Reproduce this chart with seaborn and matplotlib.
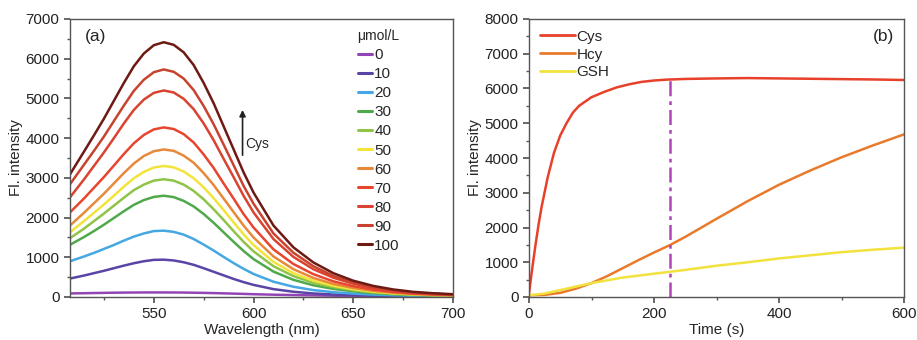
import numpy as np
import pandas as pd
import matplotlib
matplotlib.use("Agg")
import matplotlib.pyplot as plt
from matplotlib.ticker import MultipleLocator
import seaborn as sns

# ---------------- data: panel (a) ----------------
wavelength = [508, 515, 520, 525, 530, 535, 540, 545, 550, 555, 560, 565, 570, 575, 580,
              585, 590, 595, 600, 610, 620, 630, 640, 650, 660, 670, 680, 690, 700]
concentrations = ["0", "10", "20", "30", "40", "50", "60", "70", "80", "90", "100"]
fl_0 = [90, 95, 100, 104, 108, 111, 113, 115, 115, 115, 114, 112, 108, 104, 98,
        92, 85, 78, 70, 58, 48, 40, 33, 27, 22, 18, 15, 12, 10]
fl_10 = [465, 540, 600, 660, 725, 790, 850, 900, 935, 940, 920, 875, 810, 725, 635,
         545, 455, 375, 305, 198, 132, 89, 63, 46, 34, 26, 20, 16, 13]
fl_20 = [900, 1020, 1110, 1210, 1310, 1420, 1520, 1600, 1660, 1670, 1640, 1570, 1460, 1320, 1170,
         1010, 855, 710, 580, 385, 258, 174, 121, 86, 61, 44, 32, 25, 20]
fl_30 = [1315, 1510, 1660, 1820, 1990, 2160, 2320, 2440, 2520, 2550, 2515, 2420, 2280, 2090, 1870,
         1630, 1390, 1160, 955, 640, 432, 295, 204, 143, 99, 69, 50, 37, 28]
fl_40 = [1480, 1720, 1910, 2100, 2300, 2500, 2690, 2830, 2930, 2965, 2930, 2830, 2670, 2460, 2210,
         1940, 1660, 1390, 1150, 775, 525, 358, 248, 172, 118, 82, 58, 43, 32]
fl_50 = [1630, 1910, 2120, 2330, 2550, 2780, 2990, 3150, 3260, 3300, 3265, 3160, 2990, 2760, 2490,
         2190, 1880, 1580, 1310, 885, 600, 410, 282, 195, 133, 92, 66, 48, 36]
fl_60 = [1800, 2120, 2360, 2600, 2860, 3120, 3360, 3550, 3670, 3715, 3680, 3560, 3380, 3120, 2820,
         2480, 2140, 1800, 1500, 1020, 700, 480, 330, 228, 155, 107, 75, 55, 42]
fl_70 = [2130, 2480, 2750, 3020, 3310, 3600, 3870, 4080, 4220, 4270, 4230, 4100, 3890, 3590, 3250,
         2860, 2480, 2090, 1750, 1200, 830, 575, 395, 272, 185, 128, 88, 65, 50]
fl_80 = [2510, 2960, 3300, 3640, 4000, 4370, 4710, 4970, 5140, 5200, 5150, 4990, 4730, 4370, 3950,
         3480, 3020, 2550, 2130, 1460, 1010, 700, 485, 335, 228, 156, 105, 78, 58]
fl_90 = [2840, 3330, 3680, 4040, 4430, 4820, 5190, 5470, 5660, 5730, 5670, 5500, 5210, 4810, 4350,
         3840, 3320, 2800, 2350, 1600, 1115, 775, 530, 365, 250, 170, 115, 85, 62]
fl_100 = [3090, 3660, 4070, 4490, 4940, 5390, 5810, 6130, 6340, 6415, 6350, 6160, 5840, 5390, 4880,
          4300, 3720, 3140, 2630, 1800, 1250, 870, 600, 410, 280, 190, 130, 95, 70]
spectra = [fl_0, fl_10, fl_20, fl_30, fl_40, fl_50, fl_60, fl_70, fl_80, fl_90, fl_100]
conc_colors = ["#9445b5", "#5a44a6", "#45a8e2", "#4fa94a", "#8fc447", "#f2e43a",
               "#e8893a", "#e8452f", "#d9432f", "#c8432f", "#6e1a14"]

# ---------------- data: panel (b) ----------------
t_cys = [0, 5, 10, 15, 20, 30, 40, 50, 60, 70, 80, 100, 120, 140, 160, 180, 200,
         220, 250, 300, 350, 400, 450, 500, 550, 600]
fl_cys = [100, 800, 1450, 2050, 2580, 3450, 4150, 4650, 5000, 5300, 5500, 5750, 5900,
          6030, 6120, 6190, 6230, 6255, 6275, 6290, 6300, 6290, 6280, 6270, 6260, 6245]
t_hcy = [0, 25, 50, 75, 100, 125, 150, 175, 200, 225, 250, 300, 350, 400, 450, 500, 550, 600]
fl_hcy = [50, 60, 120, 240, 400, 600, 830, 1060, 1280, 1490, 1730, 2250, 2760, 3230,
          3640, 4020, 4360, 4680]
t_gsh = [0, 25, 50, 100, 150, 200, 250, 300, 350, 400, 450, 500, 550, 600]
fl_gsh = [50, 100, 200, 400, 560, 670, 780, 900, 1000, 1110, 1200, 1290, 1360, 1420]
thiols = ["Cys", "Hcy", "GSH"]
thiol_colors = ["#e8412b", "#e97a2c", "#f2e23e"]
marker_time = 225
marker_top = 6240

# ---------------- styling ----------------
sns.set_theme(style="ticks")
plt.rcParams["font.family"] = ["Liberation Sans", "DejaVu Sans"]
plt.rcParams.update({
    "axes.edgecolor": "#555555",
    "axes.linewidth": 1.0,
    "xtick.color": "#555555",
    "ytick.color": "#555555",
    "xtick.labelcolor": "#222222",
    "ytick.labelcolor": "#222222",
    "xtick.labelsize": 11,
    "ytick.labelsize": 11,
    "xtick.major.size": 4,
    "ytick.major.size": 4,
    "xtick.minor.size": 2.5,
    "ytick.minor.size": 2.5,
})

fig = plt.figure(figsize=(9.17, 3.40), dpi=100)
ax1 = fig.add_axes([70 / 917, 43 / 340, 383 / 917, 278 / 340])
ax2 = fig.add_axes([529 / 917, 43 / 340, 375 / 917, 278 / 340])

# panel (a)
rows = []
for c, vals in zip(concentrations, spectra):
    for w, v in zip(wavelength, vals):
        rows.append((w, v, c))
df_a = pd.DataFrame(rows, columns=["wavelength", "fl", "conc"])
sns.lineplot(data=df_a, x="wavelength", y="fl", hue="conc", hue_order=concentrations,
             palette=conc_colors, linewidth=1.8, ax=ax1, sort=False)
ax1.set_xlim(508, 700)
ax1.set_ylim(0, 7000)
ax1.xaxis.set_major_locator(MultipleLocator(50))
ax1.xaxis.set_minor_locator(MultipleLocator(25))
ax1.yaxis.set_major_locator(MultipleLocator(1000))
ax1.yaxis.set_minor_locator(MultipleLocator(500))
ax1.set_xlabel("Wavelength (nm)", fontsize=11, labelpad=1)
ax1.set_ylabel("Fl. intensity", fontsize=11, labelpad=2)
ax1.text(0.04, 0.965, "(a)", transform=ax1.transAxes, fontsize=12.5, va="top", ha="left")
ax1.annotate("", xy=(594.5, 4780), xytext=(594.5, 3500),
             arrowprops=dict(arrowstyle="-|>", color="#222222", lw=1.2, mutation_scale=9))
ax1.text(596, 3850, "Cys", fontsize=10, va="center", ha="left")
leg1 = ax1.legend(title="μmol/L", loc="upper left", bbox_to_anchor=(0.735, 0.985),
                  frameon=False, fontsize=11, title_fontsize=10, handlelength=0.9,
                  handletextpad=0.15, labelspacing=0.33, borderaxespad=0.0)
leg1._legend_box.align = "right"
for line in leg1.get_lines():
    line.set_linewidth(2.2)

# panel (b)
rows = []
for name, ts, vals in zip(thiols, [t_cys, t_hcy, t_gsh], [fl_cys, fl_hcy, fl_gsh]):
    for t, v in zip(ts, vals):
        rows.append((t, v, name))
df_b = pd.DataFrame(rows, columns=["time", "fl", "thiol"])
sns.lineplot(data=df_b, x="time", y="fl", hue="thiol", hue_order=thiols,
             palette=thiol_colors, linewidth=1.8, ax=ax2, sort=False)
ax2.plot([marker_time, marker_time], [0, marker_top], color="#b044b8",
         linestyle=(0, (6, 2, 1.5, 2)), linewidth=1.8)
ax2.set_xlim(0, 600)
ax2.set_ylim(0, 8000)
ax2.xaxis.set_major_locator(MultipleLocator(200))
ax2.xaxis.set_minor_locator(MultipleLocator(100))
ax2.yaxis.set_major_locator(MultipleLocator(1000))
ax2.yaxis.set_minor_locator(MultipleLocator(500))
ax2.set_xlabel("Time (s)", fontsize=11, labelpad=1)
ax2.set_ylabel("Fl. intensity", fontsize=11, labelpad=2)
ax2.text(0.975, 0.965, "(b)", transform=ax2.transAxes, fontsize=12.5, va="top", ha="right")
leg2 = ax2.legend(loc="upper left", bbox_to_anchor=(0.0, 1.0), frameon=False, fontsize=11,
                  handlelength=2.3, handletextpad=0.1, labelspacing=0.25, borderaxespad=0.3)
for line in leg2.get_lines():
    line.set_linewidth(2.0)

for ax in (ax1, ax2):
    for s in ax.spines.values():
        s.set_visible(True)
    ax.tick_params(which="both", direction="out", top=False, right=False)

fig.savefig("out.png", dpi=100)
